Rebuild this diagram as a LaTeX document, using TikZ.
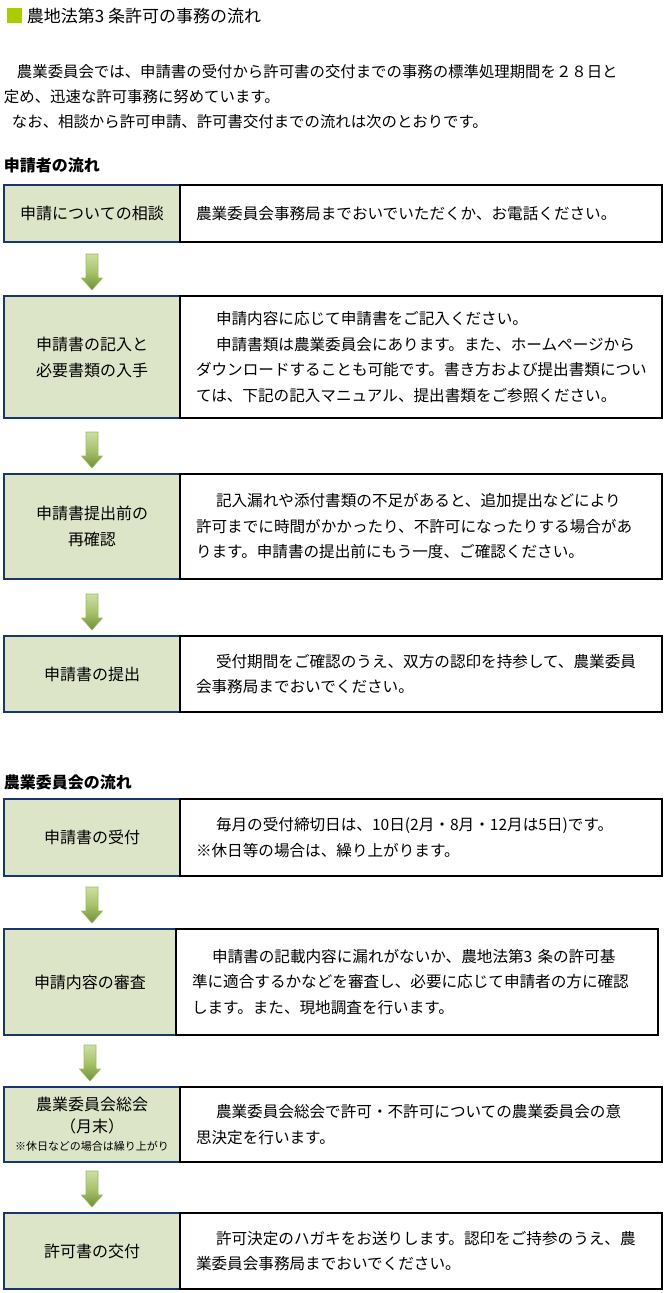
\documentclass[tikz,border=0pt]{standalone}
\usepackage{fontspec}
\setmainfont{Noto Sans CJK JP}
\usetikzlibrary{calc}

\definecolor{cellgreen}{RGB}{221,229,200}
\definecolor{cellblue}{RGB}{23,55,110}
\definecolor{titlegreen}{RGB}{168,206,0}
\definecolor{arrowlight}{RGB}{205,222,165}
\definecolor{arrowmid}{RGB}{166,195,106}
\definecolor{arrowdark}{RGB}{112,142,60}
\definecolor{arrowedge}{RGB}{155,187,89}

\newcommand\jpindent{\hspace*{20pt}}
% fat green arrow from one step box down to the next
\newcommand\flowarrow[2]{%
  \coordinate (base) at (#1.south |- #2.north);
  \coordinate (tip) at ($(base)+(0,-6)$);
  \shade[top color=arrowlight, bottom color=arrowdark, middle color=arrowmid,
         draw=arrowedge, line width=0.6pt]
    ($(tip)+(-6,-36)$) -- ($(tip)+(6,-36)$) -- ($(tip)+(6,-12)$)
    -- ($(tip)+(10.5,-12)$) -- (tip) -- ($(tip)+(-10.5,-12)$)
    -- ($(tip)+(-6,-12)$) -- cycle;}

\begin{document}
\begin{tikzpicture}[x=1pt,y=-1pt,
  every node/.style={inner sep=0pt, outer sep=0pt},
  stepcell/.style={draw=cellblue, fill=cellgreen, line width=1.1pt,
    minimum width=176pt, align=center, anchor=north west,
    font=\fontsize{16pt}{26pt}\selectfont},
  infocell/.style={draw=black, line width=1.1pt, text width=450pt,
    inner xsep=16pt, align=left, anchor=north west,
    font=\fontsize{15.6pt}{25.5pt}\selectfont},
  heading/.style={anchor=west, font=\fontsize{16pt}{20pt}\selectfont\bfseries}]
  \useasboundingbox (0,0) rectangle (667,1293);

  % title and introduction
  \fill[titlegreen] (7,8) rectangle (22,23);
  \node[anchor=west, font=\fontsize{17pt}{20pt}\selectfont] (title) at (27,16) {農地法第3 条許可の事務の流れ};
  \node[anchor=west, align=left, font=\fontsize{15.4pt}{25pt}\selectfont] (intro) at (4,97)
    {\hspace*{13pt}農業委員会では、申請書の受付から許可書の交付までの事務の標準処理期間を２８日と\\
     定め、迅速な許可事務に努めています。\\
     \hspace*{8pt}なお、相談から許可申請、許可書交付までの流れは次のとおりです。};

  % applicant side
  \node[heading] (h1) at (4,165) {申請者の流れ};
  \node[stepcell, minimum height=57pt] (s1) at (4,185) {申請についての相談};
  \node[infocell, minimum height=57pt] (d1) at (s1.north east)
    {農業委員会事務局までおいでいただくか、お電話ください。};
  \node[stepcell, minimum height=122pt] (s2) at (4,296) {申請書の記入と\\必要書類の入手};
  \node[infocell, minimum height=122pt] (d2) at (s2.north east)
    {\jpindent 申請内容に応じて申請書をご記入ください。\\
     \jpindent 申請書類は農業委員会にあります。また、ホームページから\\
     ダウンロードすることも可能です。書き方および提出書類につい\\
     ては、下記の記入マニュアル、提出書類をご参照ください。};
  \node[stepcell, minimum height=105pt] (s3) at (4,474) {申請書提出前の\\再確認};
  \node[infocell, minimum height=105pt] (d3) at (s3.north east)
    {\jpindent 記入漏れや添付書類の不足があると、追加提出などにより\\
     許可までに時間がかかったり、不許可になったりする場合があ\\
     ります。申請書の提出前にもう一度、ご確認ください。};
  \node[stepcell, minimum height=76pt] (s4) at (4,636) {申請書の提出};
  \node[infocell, minimum height=76pt] (d4) at (s4.north east)
    {\jpindent 受付期間をご確認のうえ、双方の認印を持参して、農業委員\\
     会事務局までおいでください。};

  % committee side
  \node[heading] (h2) at (4,782) {農業委員会の流れ};
  \node[stepcell, minimum height=77pt] (s5) at (4,799) {申請書の受付};
  \node[infocell, minimum height=77pt] (d5) at (s5.north east)
    {\jpindent 毎月の受付締切日は、10日(2月・8月・12月は5日)です。\\
     ※休日等の場合は、繰り上がります。};
  \node[stepcell, minimum height=106pt, minimum width=172pt] (s6) at (4,929) {申請内容の審査};
  \node[infocell, minimum height=106pt] (d6) at (s6.north east)
    {\jpindent 申請書の記載内容に漏れがないか、農地法第3 条の許可基\\
     準に適合するかなどを審査し、必要に応じて申請者の方に確認\\
     します。また、現地調査を行います。};
  \node[stepcell, minimum height=75pt] (s7) at (4,1087)
    {農業委員会総会\\[-4pt]（月末）\\[-8pt]{\fontsize{11pt}{13pt}\selectfont ※休日などの場合は繰り上がり}};
  \node[infocell, minimum height=75pt] (d7) at (s7.north east)
    {\jpindent 農業委員会総会で許可・不許可についての農業委員会の意\\
     思決定を行います。};
  \node[stepcell, minimum height=76pt] (s8) at (4,1213) {許可書の交付};
  \node[infocell, minimum height=76pt] (d8) at (s8.north east)
    {\jpindent 許可決定のハガキをお送りします。認印をご持参のうえ、農\\
     業委員会事務局までおいでください。};

  \foreach \a/\b in {s1/s2,s2/s3,s3/s4,s5/s6,s6/s7,s7/s8}
    {\flowarrow{\a}{\b}}
\end{tikzpicture}
\end{document}
